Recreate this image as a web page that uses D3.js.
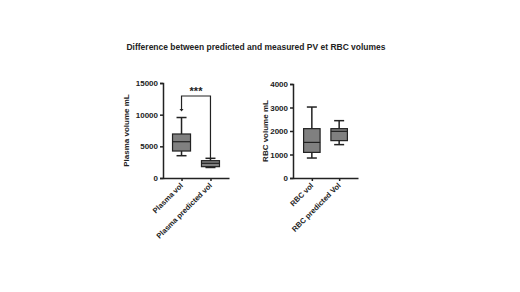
<!DOCTYPE html>
<html>
<head>
<meta charset="utf-8">
<script src="https://cdn.jsdelivr.net/npm/d3@7"></script>
<style>
  body { margin: 0; background: #fff; }
  text { font-family: "Liberation Sans", Arial, sans-serif; fill: #222; }
</style>
</head>
<body>
<div id="chart"></div>
<script>
// data
var plasmaGroups = ["Plasma vol", "Plasma predicted vol"];
var plasmaStats = [
    { min: 3520, q1: 4260, median: 5730, q3: 6950, max: 9550 },
    { min: 1660, q1: 1790, median: 2320, q3: 2740, max: 3110 }
];
var plasmaTicks = [0, 5000, 10000, 15000];

var rbcGroups = ["RBC vol", "RBC predicted Vol"];
var rbcStats = [
    { min: 850, q1: 1090, median: 1515, q3: 2100, max: 3020 },
    { min: 1420, q1: 1590, median: 1985, q3: 2100, max: 2440 }
];
var rbcTicks = [0, 1000, 2000, 3000, 4000];

var title = "Difference between predicted and measured PV et RBC volumes";

var svg = d3.select("#chart").append("svg")
    .attr("width", 520)
    .attr("height", 292);

svg.append("text")
    .attr("x", 256)
    .attr("y", 50)
    .attr("text-anchor", "middle")
    .attr("font-family", "Lato, 'Open Sans', sans-serif")
    .attr("font-weight", "bold")
    .attr("font-size", 9.5)
    .attr("textLength", 259)
    .attr("lengthAdjust", "spacingAndGlyphs")
    .text(title);

function drawPanel(opts) {
    var y = d3.scaleLinear()
        .domain(opts.domain)
        .range([opts.bottom, opts.top]);
    var x = d3.scalePoint()
        .domain(opts.groups)
        .range([opts.left, opts.right])
        .padding(opts.pad);

    var g = svg.append("g");

    // y axis
    var yAxis = d3.axisLeft(y).tickValues(opts.ticks).tickSize(3).tickPadding(2)
        .tickFormat(d3.format("d"));
    var ya = g.append("g")
        .attr("transform", "translate(" + opts.left + ",0)")
        .call(yAxis);
    ya.select(".domain").attr("stroke", "#222").attr("stroke-width", 1.5);
    ya.selectAll(".tick line").attr("stroke", "#222").attr("stroke-width", 1.5);
    ya.selectAll(".tick text")
        .attr("font-size", 8)
        .attr("font-weight", "bold")
        .attr("fill", "#222");

    // x axis
    var xAxis = d3.axisBottom(x).tickSize(3).tickSizeOuter(0).tickFormat("");
    var xa = g.append("g")
        .attr("transform", "translate(0," + opts.bottom + ")")
        .call(xAxis);
    xa.select(".domain").attr("stroke", "#222").attr("stroke-width", 1.5);
    xa.selectAll(".tick line").attr("stroke", "#222").attr("stroke-width", 1.5);

    g.selectAll(".xlabel")
        .data(opts.groups)
        .enter().append("text")
        .attr("class", "xlabel")
        .attr("transform", function(d) {
            return "translate(" + (x(d) + 2) + "," + (opts.bottom + 8) + ") rotate(-45)";
        })
        .attr("text-anchor", "end")
        .attr("font-size", 7.5)
        .attr("font-weight", "bold")
        .text(function(d) { return d; });

    // y title
    g.append("text")
        .attr("transform", "translate(" + opts.titleX + "," + ((opts.top + opts.bottom) / 2) + ") rotate(-90)")
        .attr("text-anchor", "middle")
        .attr("font-size", 8)
        .attr("font-weight", "bold")
        .text(opts.yTitle);

    // boxes
    var boxW = opts.boxW;
    var capW = 10;
    var boxes = g.selectAll(".box")
        .data(opts.stats)
        .enter().append("g")
        .attr("class", "box")
        .attr("transform", function(d, i) { return "translate(" + x(opts.groups[i]) + ",0)"; });

    boxes.append("line")
        .attr("x1", 0).attr("x2", 0)
        .attr("y1", function(d) { return y(d.max); })
        .attr("y2", function(d) { return y(d.min); })
        .attr("stroke", "#222").attr("stroke-width", 1.5);
    boxes.append("line")
        .attr("x1", -capW / 2).attr("x2", capW / 2)
        .attr("y1", function(d) { return y(d.max); })
        .attr("y2", function(d) { return y(d.max); })
        .attr("stroke", "#222").attr("stroke-width", 1.5);
    boxes.append("line")
        .attr("x1", -capW / 2).attr("x2", capW / 2)
        .attr("y1", function(d) { return y(d.min); })
        .attr("y2", function(d) { return y(d.min); })
        .attr("stroke", "#222").attr("stroke-width", 1.5);
    boxes.append("rect")
        .attr("x", -boxW / 2)
        .attr("width", boxW)
        .attr("y", function(d) { return y(d.q3); })
        .attr("height", function(d) { return y(d.q1) - y(d.q3); })
        .attr("fill", "#808080")
        .attr("stroke", "#222").attr("stroke-width", 1.2);
    boxes.append("line")
        .attr("x1", -boxW / 2).attr("x2", boxW / 2)
        .attr("y1", function(d) { return y(d.median); })
        .attr("y2", function(d) { return y(d.median); })
        .attr("stroke", "#222").attr("stroke-width", 1.2);

    return { x: x, y: y, g: g };
}

var left = drawPanel({
    groups: plasmaGroups, stats: plasmaStats, ticks: plasmaTicks,
    domain: [0, 15000], top: 83, bottom: 178, left: 163, right: 229, pad: 0.64,
    boxW: 18, titleX: 129, yTitle: "Plasma volume mL"
});

var right = drawPanel({
    groups: rbcGroups, stats: rbcStats, ticks: rbcTicks,
    domain: [0, 4000], top: 84, bottom: 178, left: 293, right: 358, pad: 0.69,
    boxW: 16.5, titleX: 268, yTitle: "RBC volume mL"
});

// significance bracket on the plasma panel
var bracketY = left.y(12950);
var x1 = left.x(plasmaGroups[0]), x2 = left.x(plasmaGroups[1]);
left.g.append("path")
    .attr("d", "M" + x1 + "," + left.y(10900) + "V" + bracketY + "H" + x2 + "V" + left.y(plasmaStats[1].max))
    .attr("fill", "none")
    .attr("stroke", "#222")
    .attr("stroke-width", 1.2);
left.g.append("path")
    .attr("d", "M" + (x1 - 2) + "," + left.y(10900) + "L" + (x1 + 2) + "," + left.y(10900) + "L" + x1 + "," + left.y(10500) + "Z")
    .attr("fill", "#222");
left.g.append("text")
    .attr("x", (x1 + x2) / 2)
    .attr("y", bracketY - 1)
    .attr("text-anchor", "middle")
    .attr("font-size", 11)
    .attr("font-weight", "bold")
    .text("***");
</script>
</body>
</html>
